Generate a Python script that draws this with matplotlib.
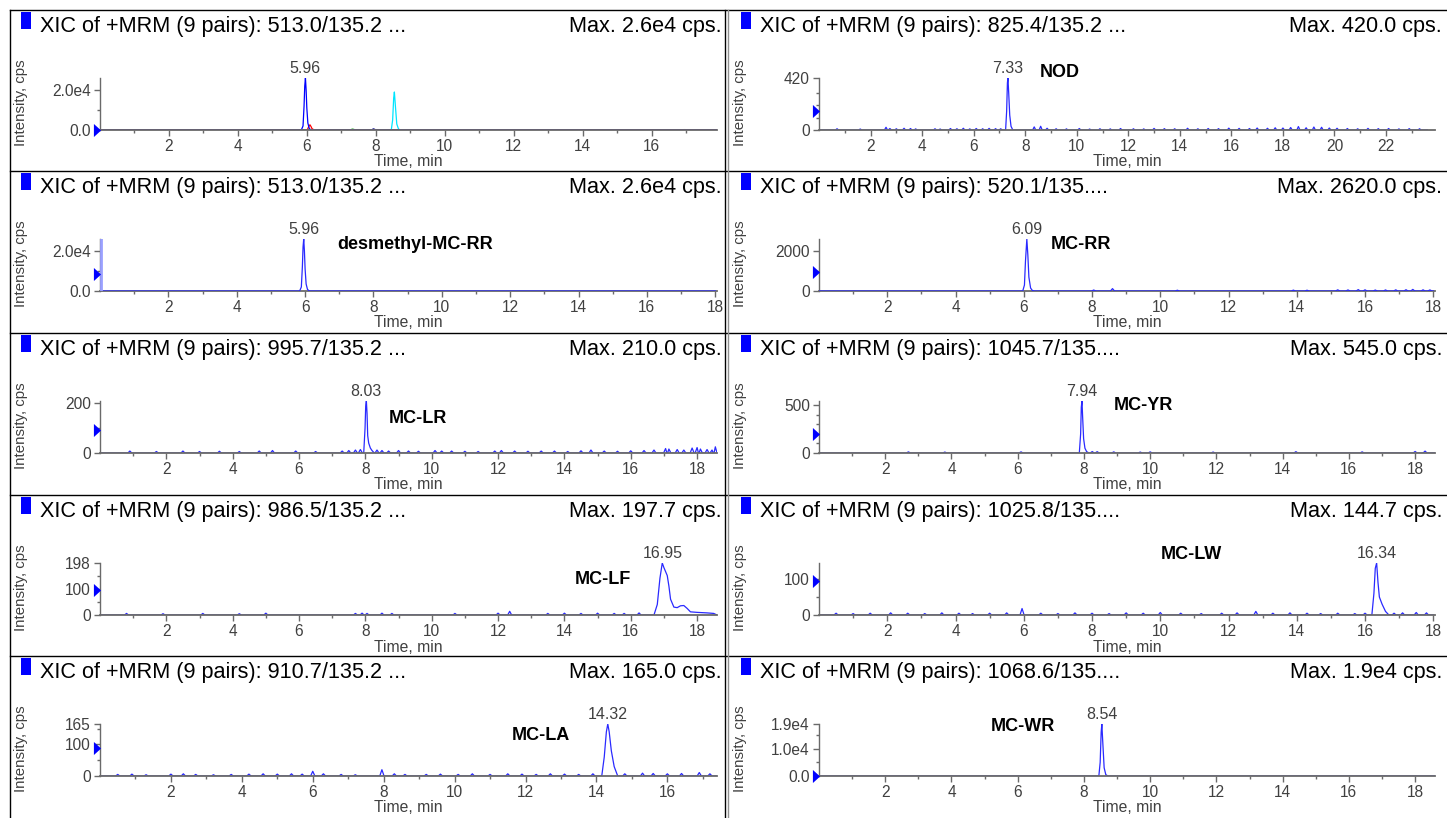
import numpy as np
import matplotlib
matplotlib.use("Agg")
import matplotlib.pyplot as plt
import matplotlib.transforms as mtransforms
from matplotlib.patches import Rectangle
from matplotlib.lines import Line2D

plt.rcParams['font.family'] = ['Liberation Sans', 'DejaVu Sans']

# ------------------------------------------------------------------ data
# peak profiles: retention time (min) / intensity (cps)
dm_peak_t = [0.0, 5.84, 5.89, 5.92, 5.94, 5.96, 5.98, 6.00, 6.03, 6.07, 6.12, 18.0]
dm_peak_i = [0, 0, 2000, 12000, 22000, 26000, 20000, 11000, 3500, 800, 0, 0]
dm_noise_t = []
dm_noise_i = []

nod_peak_t = [0.0, 7.24, 7.28, 7.31, 7.33, 7.36, 7.40, 7.45, 7.52, 23.6]
nod_peak_i = [0, 0, 150, 380, 420, 300, 120, 30, 0, 0]
nod_noise_t = [0.7, 1.6, 2.6, 2.75, 3.0, 3.3, 3.55, 3.75, 4.5, 4.7,
               5.1, 5.35, 5.6, 5.85, 6.1, 6.35, 6.6, 6.85, 7.05, 8.35,
               8.6, 8.85, 9.2, 9.6, 10.1, 10.5, 10.9, 11.3, 11.7, 12.2,
               12.6, 13.0, 13.4, 13.8, 14.3, 14.7, 15.1, 15.5, 15.9, 16.3,
               16.7, 17.0, 17.4, 17.7, 18.0, 18.3, 18.6, 18.9, 19.2, 19.5,
               19.8, 20.1, 20.5, 20.9, 21.3, 21.7, 22.1, 22.5, 22.9, 23.3]
nod_noise_i = [10, 8, 22, 12, 10, 14, 12, 9, 10, 8,
               12, 10, 14, 9, 12, 10, 13, 11, 10, 25,
               30, 14, 10, 9, 12, 8, 10, 9, 12, 10,
               9, 13, 11, 10, 14, 10, 12, 11, 15, 13,
               12, 16, 14, 18, 16, 20, 28, 18, 24, 22,
               16, 14, 12, 10, 13, 11, 12, 9, 11, 10]

rr_peak_t = [0.0, 5.97, 6.02, 6.05, 6.09, 6.12, 6.15, 6.20, 6.25, 6.31, 18.0]
rr_peak_i = [0, 0, 300, 1500, 2620, 1800, 700, 150, 30, 0, 0]
rr_noise_t = [8.05, 8.6, 10.5, 13.9, 14.3, 15.2, 15.5, 15.8, 16.0, 16.3,
              16.6, 16.9, 17.2, 17.4, 17.7, 17.9]
rr_noise_i = [50, 120, 40, 45, 40, 60, 55, 70, 60, 50,
              55, 60, 65, 80, 60, 55]

lr_peak_t = [0.0, 7.95, 7.99, 8.01, 8.03, 8.05, 8.07, 8.10, 8.15, 8.20, 8.27, 18.6]
lr_peak_i = [0, 0, 100, 190, 210, 160, 70, 40, 20, 10, 0, 0]
lr_noise_t = [0.9, 1.7, 2.5, 3.0, 3.6, 4.2, 4.8, 5.2, 5.9, 6.5,
              7.3, 7.5, 7.7, 7.85, 8.35, 8.5, 8.7, 9.0, 9.3, 9.6,
              10.1, 10.3, 10.6, 11.0, 11.4, 11.9, 12.1, 12.5, 12.9, 13.3,
              13.7, 14.1, 14.5, 14.8, 15.2, 15.6, 16.0, 16.4, 16.7, 17.05,
              17.15, 17.4, 17.6, 17.85, 18.0, 18.1, 18.3, 18.45, 18.55]
lr_noise_i = [8, 6, 8, 6, 7, 6, 8, 10, 8, 6,
              8, 10, 12, 14, 12, 10, 8, 10, 8, 7,
              10, 8, 8, 7, 6, 8, 10, 8, 7, 8,
              8, 6, 9, 12, 8, 7, 9, 10, 12, 18,
              16, 14, 12, 20, 22, 16, 14, 12, 25]

yr_peak_t = [0.0, 7.86, 7.90, 7.92, 7.94, 7.96, 7.99, 8.03, 8.08, 8.15, 18.6]
yr_peak_i = [0, 0, 200, 480, 545, 380, 150, 50, 15, 0, 0]
yr_noise_t = [2.7, 3.8, 6.1, 8.25, 8.4, 8.9, 9.7, 10.0, 11.9, 14.4, 16.4, 18.0, 18.3]
yr_noise_i = [12, 10, 12, 15, 14, 12, 10, 12, 10, 14, 12, 16, 20]

lf_peak_t = [0.0, 16.70, 16.80, 16.88, 16.95, 17.00, 17.05, 17.10, 17.15, 17.20,
             17.30, 17.40, 17.50, 17.60, 17.70, 17.80, 18.00, 18.30, 18.50, 18.6]
lf_peak_i = [0, 0, 40, 140, 197.7, 180, 165, 150, 110, 60,
             30, 28, 35, 36, 25, 12, 10, 8, 6, 0]
lf_noise_t = [0.8, 1.9, 3.1, 4.2, 5.0, 7.7, 7.9, 8.05, 8.5, 8.8,
              10.7, 12.0, 12.35, 13.5, 14.0, 14.5, 15.0, 15.5, 15.8, 16.25]
lf_noise_i = [6, 5, 6, 5, 7, 6, 7, 6, 7, 6,
              6, 7, 14, 6, 7, 6, 7, 6, 6, 8]

lw_peak_t = [0.0, 16.20, 16.26, 16.30, 16.34, 16.38, 16.42, 16.50, 16.60, 16.70, 18.0]
lw_peak_i = [0, 0, 60, 130, 144.7, 90, 50, 30, 10, 0, 0]
lw_noise_t = [0.5, 1.0, 1.5, 2.1, 2.6, 3.1, 3.6, 4.1, 4.5, 5.0,
              5.5, 5.95, 6.5, 7.0, 7.5, 8.0, 8.5, 9.0, 9.5, 10.0,
              10.6, 11.2, 11.8, 12.25, 12.8, 13.3, 13.8, 14.3, 14.7, 15.2,
              15.7, 16.0, 16.85, 17.1, 17.5, 17.8]
lw_noise_i = [5, 4, 5, 6, 5, 4, 6, 5, 4, 5,
              6, 18, 5, 4, 6, 5, 4, 6, 5, 7,
              5, 4, 5, 6, 10, 5, 6, 5, 4, 5,
              4, 5, 5, 6, 7, 6]

la_peak_t = [0.0, 14.15, 14.22, 14.28, 14.32, 14.36, 14.42, 14.50, 14.60, 17.4]
la_peak_i = [0, 0, 60, 140, 165, 140, 80, 30, 0, 0]
la_noise_t = [0.5, 0.9, 1.3, 2.0, 2.35, 2.7, 3.2, 3.7, 4.2, 4.6,
              5.0, 5.4, 5.7, 6.0, 6.3, 6.8, 7.2, 7.95, 8.3, 8.6,
              9.2, 9.6, 10.1, 10.5, 11.0, 11.5, 11.9, 12.3, 12.7, 13.1,
              13.5, 13.9, 14.8, 15.3, 15.6, 16.0, 16.4, 16.9, 17.2]
la_noise_i = [5, 6, 4, 6, 7, 5, 4, 5, 6, 7,
              6, 7, 6, 15, 7, 5, 4, 20, 7, 5,
              5, 6, 5, 7, 5, 7, 6, 5, 7, 6,
              5, 7, 7, 9, 8, 7, 8, 11, 7]

wr_peak_t = [0.0, 8.45, 8.49, 8.52, 8.54, 8.57, 8.61, 8.66, 8.72, 18.6]
wr_peak_i = [0, 0, 5000, 16000, 19000, 12000, 3000, 500, 0, 0]
wr_noise_t = []
wr_noise_i = []

# panel texts / axis settings (row-major: row0-left, row0-right, ...)
panel_mrm = ['513.0/135.2 ...', '825.4/135.2 ...', '513.0/135.2 ...', '520.1/135....',
             '995.7/135.2 ...', '1045.7/135....', '986.5/135.2 ...', '1025.8/135....',
             '910.7/135.2 ...', '1068.6/135....']
panel_max = ['2.6e4', '420.0', '2.6e4', '2620.0', '210.0', '545.0', '197.7', '144.7', '165.0', '1.9e4']
panel_ymax = [26000, 420, 26000, 2620, 210, 545, 197.7, 144.7, 165, 19000]
panel_xmax = [17.9, 23.9, 18.05, 18.05, 18.6, 18.6, 18.6, 18.05, 17.4, 18.6]
panel_yticks = [[0, 20000], [0, 420], [0, 20000], [0, 2000], [0, 200], [0, 500],
                [0, 100, 197.7], [0, 100], [0, 100, 165], [0, 10000, 19000]]
panel_yticklabels = [['0.0', '2.0e4'], ['0', '420'], ['0.0', '2.0e4'], ['0', '2000'],
                     ['0', '200'], ['0', '500'], ['0', '100', '198'], ['0', '100'],
                     ['0', '100', '165'], ['0.0', '1.0e4', '1.9e4']]
panel_yminor = [[10000], [100, 200, 300], [10000], [1000], [100], [100, 200, 300, 400],
                [50, 150], [50], [50, 150], [5000, 15000]]
panel_threshold = [0, 153, 8500, 940, 93, 199, 95, 95, 89, 0]
peak_rt = ['5.96', '7.33', '5.96', '6.09', '8.03', '7.94', '16.95', '16.34', '14.32', '8.54']
panel_compound = [None, 'NOD', 'desmethyl-MC-RR', 'MC-RR', 'MC-LR', 'MC-YR',
                  'MC-LF', 'MC-LW', 'MC-LA', 'MC-WR']
panel_trace = ['overlay', 'nod', 'dm', 'rr', 'lr', 'yr', 'lf', 'lw', 'la', 'wr']

# ------------------------------------------------------------------ layout / style
W, H = 1447, 818
ROW_TOP = [10, 171, 333, 495, 656]
AX_LEFT = [100, 819]
AX_RIGHT = [717, 1435]
label_pos = [None, (8.55, 1.10), (6.95, 0.90), (6.8, 0.90), (8.7, 0.67), (8.9, 0.92),
             (14.3, 0.69), (10.0, 1.17), (11.6, 0.77), (5.2, 0.96)]
trace_over_axis = [False, False, True, True, False, False, False, False, False, False]
overlay_colors = {'dm': '#0000ff', 'rr': '#ff0000', 'nod': '#00a000', 'yr': '#000080',
                  'wr': '#00e5ff', 'lr': '#ff00ff', 'lf': '#808000', 'lw': '#800080',
                  'la': '#ff8000'}
TRACE_COLOR = '#2a2aff'
AXIS_COLOR = '#6a6a6a'
TICK_TEXT = '#404040'

traces_raw = {
    'dm': (dm_peak_t, dm_peak_i, dm_noise_t, dm_noise_i),
    'nod': (nod_peak_t, nod_peak_i, nod_noise_t, nod_noise_i),
    'rr': (rr_peak_t, rr_peak_i, rr_noise_t, rr_noise_i),
    'lr': (lr_peak_t, lr_peak_i, lr_noise_t, lr_noise_i),
    'yr': (yr_peak_t, yr_peak_i, yr_noise_t, yr_noise_i),
    'lf': (lf_peak_t, lf_peak_i, lf_noise_t, lf_noise_i),
    'lw': (lw_peak_t, lw_peak_i, lw_noise_t, lw_noise_i),
    'la': (la_peak_t, la_peak_i, la_noise_t, la_noise_i),
    'wr': (wr_peak_t, wr_peak_i, wr_noise_t, wr_noise_i),
}


def build_trace(pt, pi, nt, ni, w=0.06):
    # each baseline noise reading is drawn as a small blip on the baseline
    t = list(pt)
    y = list(pi)
    for a, b in zip(nt, ni):
        t += [a - w, a, a + w]
        y += [0, b, 0]
    order = np.argsort(t, kind='stable')
    return np.asarray(t)[order], np.asarray(y, dtype=float)[order]


traces = {k: build_trace(*v) for k, v in traces_raw.items()}

fig = plt.figure(figsize=(W / 100, H / 100), dpi=100)
fig.patch.set_facecolor('white')


def fline(x0, y0, x1, y1, color='black', lw=1.0):
    fig.add_artist(Line2D([x0 / W, x1 / W], [1 - y0 / H, 1 - y1 / H], color=color,
                          lw=lw, transform=fig.transFigure, zorder=10))


for k in range(10):
    r, c = divmod(k, 2)
    top = ROW_TOP[r]
    left, right = AX_LEFT[c], AX_RIGHT[c]
    y_top, y_bot = top + 68, top + 120
    ax = fig.add_axes([left / W, 1 - y_bot / H, (right - left) / W, (y_bot - y_top) / H])

    xmax, ymax = panel_xmax[k], panel_ymax[k]
    key = panel_trace[k]
    if key == 'overlay':
        for kk in ['lr', 'lf', 'lw', 'la', 'nod', 'yr', 'wr', 'rr', 'dm']:
            t, y = traces[kk]
            ax.plot(t, y, color=overlay_colors[kk], lw=0.9, zorder=2)
    else:
        t, y = traces[key]
        ax.plot(t, y, color=TRACE_COLOR, lw=0.9, zorder=3 if trace_over_axis[k] else 2)
    if key == 'dm':
        ax.axvline(0.03, color='#9aa0ff', lw=2.0, zorder=3)

    ax.set_xlim(0, xmax)
    ax.set_ylim(0, ymax)
    for s in ['top', 'right']:
        ax.spines[s].set_visible(False)
    ax.spines['bottom'].set_color(AXIS_COLOR)
    ax.spines['bottom'].set_linewidth(1.3)
    ax.spines['left'].set_color(AXIS_COLOR)
    ax.spines['left'].set_linewidth(1.0)
    ax.patch.set_alpha(0)

    ax.set_xticks(list(range(2, int(xmax) + 1, 2)))
    ax.set_xticks(list(range(1, int(xmax) + 1, 2)), minor=True)
    ax.set_yticks(panel_yticks[k])
    ax.set_yticklabels(panel_yticklabels[k])
    ax.set_yticks(panel_yminor[k], minor=True)
    ax.tick_params(which='major', direction='out', length=4, width=1, color=AXIS_COLOR,
                   labelcolor=TICK_TEXT, labelsize=11.2, pad=2.5)
    ax.tick_params(which='minor', direction='out', length=2.5, width=1, color=AXIS_COLOR)

    ax.set_xlabel('Time, min', fontsize=11.3, color=TICK_TEXT)
    ax.xaxis.set_label_coords(0.5, -32 / 52)
    ax.xaxis.label.set_va('center')

    # peak apex label
    rt = float(peak_rt[k])
    ax.annotate(peak_rt[k], xy=(rt, ymax), xytext=(0, 1.5), textcoords='offset points',
                ha='center', va='bottom', fontsize=11.5, color=TICK_TEXT,
                annotation_clip=False)

    # compound name
    if panel_compound[k]:
        lx, ly = label_pos[k]
        ax.text(lx, ly, panel_compound[k], fontsize=13, fontweight='bold', color='black',
                ha='left', va='center',
                transform=mtransforms.blended_transform_factory(ax.transData, ax.transAxes),
                clip_on=False)

    # threshold marker triangle
    tri = mtransforms.offset_copy(ax.get_yaxis_transform(), fig=fig, x=-3.5 * 72 / 100,
                                  units='points')
    ax.plot([0], [panel_threshold[k]], marker=[(-0.55, -1), (0.55, 0), (-0.55, 1)],
            markersize=9.4, color='#0000ff', markeredgewidth=0, transform=tri,
            clip_on=False, zorder=5)

    # header
    hx = [40, 760][c]
    fig.text(hx / W, 1 - (top + 22) / H, 'XIC of +MRM (9 pairs): ' + panel_mrm[k],
             fontsize=15.6, ha='left', va='baseline', color='black')
    fig.text([722, 1442][c] / W, 1 - (top + 22) / H, 'Max. ' + panel_max[k] + ' cps.',
             fontsize=15.6, ha='right', va='baseline', color='black')
    sx = [21, 741][c]
    fig.add_artist(Rectangle((sx / W, 1 - (top + 19) / H), 10 / W, 17 / H,
                             transform=fig.transFigure, facecolor='#0000ff',
                             edgecolor='none'))
    fig.text([21, 740][c] / W, 1 - (top + 93) / H, 'Intensity, cps', rotation=90,
             fontsize=10.8, ha='center', va='center', color=TICK_TEXT)

# panel frame lines
for yt in ROW_TOP:
    fline(10, yt, W, yt)
fline(10, 10, 10, H)
fline(725, 10, 725, H)
fline(727.5, 10, 727.5, H, color='#909090')

fig.savefig('out.png', dpi=100, facecolor='white')
